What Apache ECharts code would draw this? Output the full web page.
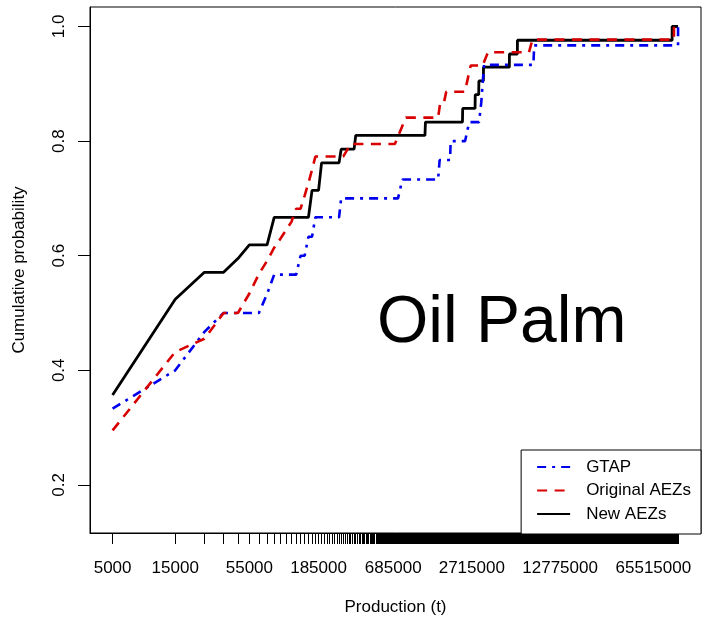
<!DOCTYPE html>
<html>
<head>
<meta charset="utf-8">
<script src="https://cdn.jsdelivr.net/npm/echarts@6/dist/echarts.min.js"></script>
<style>
  html, body { margin: 0; padding: 0; background: #fff; }
  #chart { width: 708px; height: 621px; }
</style>
</head>
<body>
<div id="chart"></div>
<script>
// Cumulative probability of oil palm production (t), by production bin
const gtapProduction = [5000, 15000, 25000, 35000, 65000, 75000, 85000, 125000, 135000, 145000, 155000, 165000, 175000, 265000, 275000, 745000, 805000, 1505000, 1545000, 1855000, 1875000, 2415000, 2595000, 3085000, 3205000, 3285000, 3365000, 7995000, 8105000, 100995000, 101005000];
const gtapProb = [0.333, 0.4, 0.467, 0.5, 0.5, 0.533, 0.567, 0.567, 0.6, 0.6, 0.633, 0.633, 0.667, 0.667, 0.7, 0.7, 0.733, 0.733, 0.767, 0.767, 0.8, 0.8, 0.833, 0.833, 0.867, 0.9, 0.933, 0.933, 0.967, 0.967, 1.0];

const origProduction = [5000, 15000, 25000, 35000, 45000, 55000, 65000, 75000, 85000, 95000, 105000, 115000, 125000, 135000, 145000, 155000, 165000, 175000, 285000, 325000, 705000, 855000, 1505000, 1555000, 1655000, 1735000, 2405000, 2665000, 3285000, 3605000, 7405000, 7855000, 94005000, 94015000, 101005000];
const origProb = [0.295, 0.432, 0.455, 0.5, 0.5, 0.534, 0.568, 0.591, 0.614, 0.63, 0.645, 0.659, 0.682, 0.682, 0.705, 0.727, 0.75, 0.773, 0.773, 0.795, 0.795, 0.841, 0.841, 0.864, 0.864, 0.886, 0.886, 0.932, 0.932, 0.955, 0.955, 0.977, 0.977, 1.0, 1.0];

const newProduction = [5000, 15000, 25000, 35000, 45000, 55000, 75000, 85000, 155000, 165000, 185000, 195000, 265000, 275000, 345000, 355000, 1195000, 1205000, 2305000, 2315000, 2875000, 2885000, 3065000, 3075000, 3325000, 3335000, 5245000, 5255000, 6035000, 6045000, 91005000, 91015000, 101005000];
const newProb = [0.357, 0.524, 0.571, 0.571, 0.595, 0.619, 0.619, 0.667, 0.667, 0.714, 0.714, 0.762, 0.762, 0.786, 0.786, 0.810, 0.810, 0.833, 0.833, 0.857, 0.857, 0.881, 0.881, 0.905, 0.905, 0.929, 0.929, 0.952, 0.952, 0.976, 0.976, 1.0, 1.0];

const xTickLabels = [5000, 15000, 55000, 185000, 685000, 2715000, 12775000, 65515000];
const yTickLabels = [0.2, 0.4, 0.6, 0.8, 1.0];

// one tick per production bin (bin midpoints every 10 000 t)
const binFirst = 5000, binStep = 10000, binLast = 101005000;
const binTicks = [];
for (let v = binFirst; v <= binLast; v += binStep) binTicks.push(v);

const zip = (xs, ys) => xs.map((x, i) => [x, ys[i]]);
const FONT = '"Liberation Sans", Arial, Helvetica, sans-serif';

const chart = echarts.init(document.getElementById('chart'), null, { renderer: 'canvas' });
chart.setOption({
  animation: false,
  backgroundColor: '#fff',
  textStyle: { fontFamily: FONT, color: '#000' },
  grid: { left: 90, right: 7, top: 7, bottom: 87, show: true, borderColor: '#000', borderWidth: 1, backgroundColor: 'transparent' },
  title: {
    text: 'Oil Palm', left: 377, top: 291, padding: 0,
    textStyle: { fontSize: 66, fontWeight: 'normal', color: '#000', fontFamily: FONT }
  },
  legend: {
    orient: 'vertical', right: 7, bottom: 87,
    data: ['GTAP', 'Original AEZs', 'New AEZs'],
    itemWidth: 33, itemHeight: 17, itemGap: 6.5,
    padding: [8.5, 10, 11.5, 15],
    borderColor: '#000', borderWidth: 1, borderRadius: 0, backgroundColor: '#fff',
    selectedMode: false,
    itemStyle: { opacity: 0 },
    textStyle: { fontSize: 17, color: '#000', lineHeight: 17, padding: [0, 0, 0, 11], fontFamily: FONT }
  },
  xAxis: {
    type: 'log', logBase: 10,
    min: Math.pow(10, 3.527), max: Math.pow(10, 8.179),
    name: 'Production (t)', nameLocation: 'middle', nameGap: 66,
    nameTextStyle: { fontSize: 17, color: '#000', fontFamily: FONT },
    axisLine: { show: true, onZero: false, lineStyle: { color: '#000', width: 1 } },
    axisTick: { show: true, length: 11, customValues: binTicks, lineStyle: { color: '#000', width: 1 } },
    axisLabel: { customValues: xTickLabels, formatter: v => String(Math.round(v)), fontSize: 17, color: '#000', margin: 27, fontFamily: FONT },
    splitLine: { show: false }, minorTick: { show: false }
  },
  yAxis: {
    type: 'value', min: 0.116, max: 1.034,
    name: 'Cumulative probability', nameLocation: 'middle', nameGap: 62,
    nameTextStyle: { fontSize: 17, color: '#000', fontFamily: FONT },
    axisLine: { show: true, lineStyle: { color: '#000', width: 1 } },
    axisTick: { show: true, length: 12, customValues: yTickLabels, lineStyle: { color: '#000', width: 1 } },
    axisLabel: { customValues: yTickLabels, rotate: 90, formatter: v => v.toFixed(1), fontSize: 17, color: '#000', margin: 22, fontFamily: FONT },
    splitLine: { show: false }
  },
  series: [
    {
      name: 'New AEZs', type: 'line', data: zip(newProduction, newProb),
      symbol: 'none', color: '#000',
      lineStyle: { color: '#000', width: 2.8, type: 'solid' }
    },
    {
      name: 'GTAP', type: 'line', data: zip(gtapProduction, gtapProb),
      symbol: 'none', color: '#0000EE',
      lineStyle: { color: '#0000EE', width: 2.6, type: [9, 6, 3, 6] }
    },
    {
      name: 'Original AEZs', type: 'line', data: zip(origProduction, origProb),
      symbol: 'none', color: '#D80000',
      lineStyle: { color: '#D80000', width: 2.6, type: [10, 7.5] }
    }
  ]
});
</script>
</body>
</html>
